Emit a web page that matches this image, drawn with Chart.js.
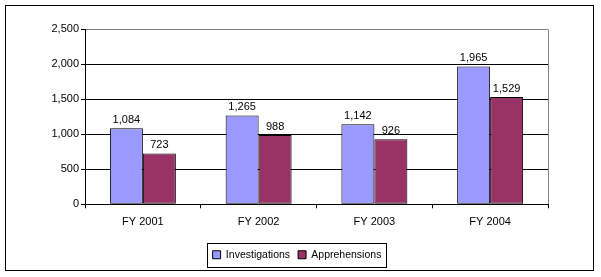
<!DOCTYPE html>
<html>
<head>
<meta charset="utf-8">
<script src="https://cdn.jsdelivr.net/npm/chart.js@4"></script>
<style>
  html, body { margin: 0; padding: 0; background: #fff; }
  #wrap { position: relative; width: 601px; height: 277px; }
</style>
</head>
<body>
<div id="wrap"><canvas id="c" width="601" height="277"></canvas></div>
<script>
const categories = ["FY 2001", "FY 2002", "FY 2003", "FY 2004"];
const investigations = [1084, 1265, 1142, 1965];
const apprehensions = [723, 988, 926, 1529];
const yMax = 2500;
const yStep = 500;

const FONT = "'Liberation Sans', Arial, sans-serif";

function fmt(v) {
  return Number(v).toLocaleString("en-US");
}

// outer frame, gray plot border on the right, box round the legend
const framePlugin = {
  id: "frame",
  afterDraw(chart) {
    const ctx = chart.ctx;
    const a = chart.chartArea;
    ctx.save();
    ctx.lineWidth = 1;
    ctx.strokeStyle = "#808080";
    ctx.beginPath();
    ctx.moveTo(Math.round(a.right) + 0.5, Math.round(a.top) + 0.5);
    ctx.lineTo(Math.round(a.right) + 0.5, Math.round(a.bottom));
    ctx.stroke();

    ctx.strokeStyle = "#000";
    ctx.strokeRect(5.5, 5.5, 588, 265);

    const boxes = chart.legend && chart.legend.legendHitBoxes;
    if (boxes && boxes.length) {
      const l = Math.min(...boxes.map((b) => b.left));
      const r = Math.max(...boxes.map((b) => b.left + b.width));
      const t = Math.min(...boxes.map((b) => b.top));
      const bt = Math.max(...boxes.map((b) => b.top + b.height));
      const cy = (t + bt) / 2;
      ctx.strokeRect(Math.round(l - 6) + 0.5, Math.round(cy - 12) + 0.5,
        Math.round(r - l + 10), 24);
    }
    ctx.restore();
  },
};

// value labels above each bar
const barLabels = {
  id: "barLabels",
  afterDatasetsDraw(chart) {
    const ctx = chart.ctx;
    ctx.save();
    ctx.font = "11px " + FONT;
    ctx.fillStyle = "#000";
    ctx.textAlign = "center";
    ctx.textBaseline = "bottom";
    chart.data.datasets.forEach((ds, i) => {
      chart.getDatasetMeta(i).data.forEach((el, j) => {
        ctx.fillText(fmt(ds.data[j]), el.x, el.y - 3);
      });
    });
    ctx.restore();
  },
};

new Chart(document.getElementById("c"), {
  type: "bar",
  data: {
    labels: categories,
    datasets: [
      {
        label: "Investigations",
        data: investigations,
        backgroundColor: "#9999FF",
        borderColor: "#000",
        borderWidth: 1,
        borderSkipped: false,
      },
      {
        label: "Apprehensions",
        data: apprehensions,
        backgroundColor: "#993366",
        borderColor: "#000",
        borderWidth: 1,
        borderSkipped: false,
      },
    ],
  },
  options: {
    responsive: false,
    animation: false,
    devicePixelRatio: 1,
    layout: { padding: { left: 46, top: 29, right: 53, bottom: 7 } },
    datasets: { bar: { categoryPercentage: 0.57, barPercentage: 1 } },
    scales: {
      x: {
        afterFit(scale) { scale.height += 6; },
        grid: {
          offset: true,
          drawOnChartArea: false,
          color: "#000",
          tickLength: 4,
        },
        border: { color: "#000" },
        ticks: { color: "#000", font: { family: FONT, size: 11 }, padding: 7 },
      },
      y: {
        min: 0,
        max: yMax,
        afterFit(scale) { scale.width = 39; },
        grid: {
          color: (c) => (c.tick && c.tick.value === yMax ? "#808080" : "#000"),
          tickColor: "#000",
          tickLength: 4,
        },
        border: { color: "#000" },
        ticks: {
          stepSize: yStep,
          color: "#000",
          padding: 2,
          font: { family: FONT, size: 11 },
          callback: (v) => fmt(v),
        },
      },
    },
    plugins: {
      legend: {
        position: "bottom",
        labels: {
          boxWidth: 8,
          boxHeight: 8,
          padding: 8,
          color: "#000",
          font: { family: FONT, size: 10.5 },
        },
      },
      tooltip: { enabled: false },
    },
  },
  plugins: [framePlugin, barLabels],
});
</script>
</body>
</html>
